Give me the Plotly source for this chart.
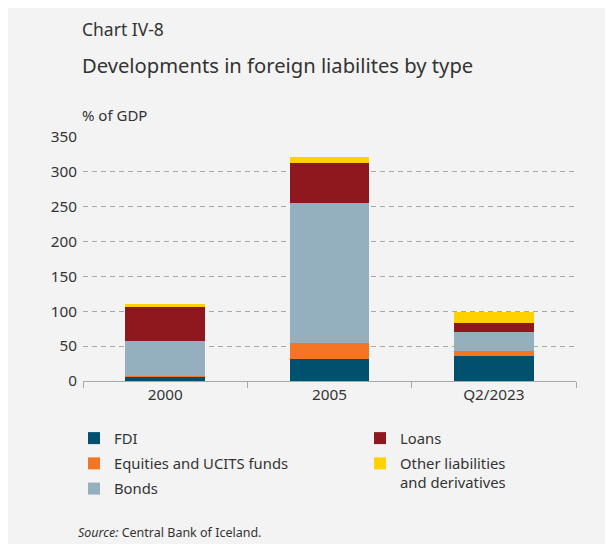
import plotly.graph_objects as go

# ── Data (% of GDP) ───────────────────────────────────────────────────────────
categories = ["2000", "2005", "Q2/2023"]
fdi = [6.5, 32, 36.5]
equities = [1, 22, 6]
bonds = [50, 202, 28.5]
loans = [50, 57, 11.5]
other = [2.5, 8.5, 17]

y_ticks = [0, 50, 100, 150, 200, 250, 300, 350]

# ── Style ─────────────────────────────────────────────────────────────────────
FONT = "Noto Sans"
TEXT = "#333333"
PANEL = "#F3F3F3"
GRID = "#A8A8A8"

# page body has an 8px margin, so the figure sits at (8, 8) on the page
OFF = 8
W, H = 597, 536
L = 83 - OFF
T = 137 - OFF
R = W - (576 - OFF)
B = H - (381 - OFF)
PW, PH = W - L - R, H - T - B


def px_x(x):
    """page pixel -> paper x"""
    return (x - OFF - L) / PW


def px_y(y):
    """page pixel -> paper y"""
    return (H - B - (y - OFF)) / PH


series = [
    ("FDI", fdi, "#00506E", "legend", 1),
    ("Equities and UCITS funds", equities, "#F47524", "legend", 2),
    ("Bonds", bonds, "#94AFBD", "legend", 3),
    ("Loans", loans, "#8E181E", "legend2", 4),
    ("Other liabilities<br>and derivatives", other, "#FFD100", "legend2", 5),
]

fig = go.Figure()
for name, vals, color, leg, rank in series:
    fig.add_trace(
        go.Bar(
            x=categories,
            y=vals,
            name=name,
            marker={"color": color, "line": {"width": 0}},
            legend=leg,
            legendgroup=name,
            legendrank=rank,
        )
    )

fig.add_annotation(
    text="Chart IV-8", xref="paper", yref="paper",
    x=px_x(80), y=px_y(43), xanchor="left", yanchor="bottom",
    showarrow=False, font={"family": FONT, "size": 17.5, "color": TEXT},
)
fig.add_annotation(
    text="Developments in foreign liabilites by type", xref="paper", yref="paper",
    x=px_x(80), y=px_y(81), xanchor="left", yanchor="bottom",
    showarrow=False, font={"family": FONT, "size": 20.2, "color": TEXT},
)
fig.add_annotation(
    text="% of GDP", xref="paper", yref="paper",
    x=px_x(80), y=px_y(127), xanchor="left", yanchor="bottom",
    showarrow=False, font={"family": FONT, "size": 15, "color": TEXT},
)
fig.add_annotation(
    text="<i>Source:</i> Central Bank of Iceland.", xref="paper", yref="paper",
    x=px_x(76), y=px_y(543), xanchor="left", yanchor="bottom",
    showarrow=False, font={"family": FONT, "size": 12.5, "color": TEXT},
)

legend_common = {
    "orientation": "v",
    "xanchor": "left",
    "yanchor": "top",
    "bgcolor": "rgba(0,0,0,0)",
    "font": {"family": FONT, "size": 14.8, "color": TEXT},
    "traceorder": "grouped",
    "tracegroupgap": 3,
    "valign": "top",
    "itemwidth": 30,
}

fig.update_layout(
    width=W,
    height=H,
    margin={"l": L, "r": R, "t": T, "b": B, "pad": 0},
    paper_bgcolor=PANEL,
    plot_bgcolor=PANEL,
    barmode="stack",
    bargap=0.515,
    font={"family": FONT, "color": TEXT},
    legend={**legend_common, "x": px_x(74), "y": px_y(422)},
    legend2={**legend_common, "x": px_x(360), "y": px_y(422)},
    xaxis={
        "showline": True,
        "linecolor": GRID,
        "linewidth": 1,
        "ticks": "outside",
        "tickson": "boundaries",
        "ticklen": 6,
        "tickcolor": GRID,
        "tickfont": {"family": FONT, "size": 15.3, "color": TEXT},
        "showgrid": False,
    },
    yaxis={
        "range": [0, 350],
        "tickvals": y_ticks,
        "showgrid": True,
        "gridcolor": GRID,
        "griddash": "5px,4px",
        "gridwidth": 1,
        "zeroline": False,
        "ticks": "outside",
        "ticklen": 2,
        "tickcolor": "rgba(0,0,0,0)",
        "tickfont": {"family": FONT, "size": 15.3, "color": TEXT},
    },
)

fig.write_html("out.html")
